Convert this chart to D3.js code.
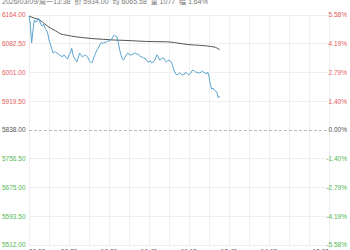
<!DOCTYPE html>
<html>
<head>
<meta charset="utf-8">
<script src="https://cdn.jsdelivr.net/npm/d3@7"></script>
<style>
    body { margin: 0; background: #fff; }
    svg { display: block; }
</style>
</head>
<body>
<svg id="chart"></svg>
<script>
// minutes since open, breaks removed (09:00-10:15, 10:30-11:30, 13:30-15:00)
const priceMinutes = d3.range(0, 144);
const prices = [
    6161, 6138, 6085, 6121, 6150, 6144, 6147, 6155, 6147, 6136,
    6133, 6138, 6127, 6121, 6113, 6093, 6082, 6070, 6056, 6059,
    6059, 6056, 6053, 6051, 6048, 6045, 6051, 6048, 6042, 6039,
    6051, 6056, 6070, 6051, 6042, 6036, 6031, 6045, 6056, 6051,
    6045, 6048, 6051, 6048, 6045, 6036, 6031, 6028, 6036, 6048,
    6056, 6065, 6070, 6079, 6085, 6085, 6085, 6087, 6087, 6090,
    6090, 6093, 6096, 6102, 6107, 6104, 6102, 6085, 6065, 6051,
    6039, 6036, 6045, 6051, 6056, 6053, 6051, 6051, 6053, 6056,
    6056, 6053, 6053, 6048, 6045, 6045, 6042, 6042, 6036, 6031,
    6031, 6034, 6028, 6031, 6034, 6042, 6051, 6045, 6036, 6039,
    6042, 6042, 6036, 6031, 6034, 6036, 6034, 6028, 6017, 6005,
    5997, 5994, 5997, 6000, 5997, 5994, 5994, 6000, 6000, 5997,
    5994, 5997, 6005, 6008, 6005, 6002, 6002, 6000, 6000, 6002,
    6005, 6002, 6000, 5997, 6002, 5991, 5966, 5954, 5957, 5951,
    5949, 5943, 5929, 5934
];
const avgMinutes = [0, 4, 8, 12, 16, 20, 24, 28, 32, 40, 48, 56, 64, 72, 88, 104, 114, 120, 128, 136, 140, 143];
const avgPrices = [6161, 6155, 6150, 6138, 6127, 6119, 6110, 6107, 6104, 6100, 6097, 6095, 6093, 6092, 6089, 6088, 6083, 6080, 6078, 6075, 6072, 6065.58];

const prevClose = 5838;
const priceTicks = [6164, 6082.5, 6001, 5919.5, 5838, 5756.5, 5675, 5593.5, 5512];
const pctLabels = ["5.58%", "4.19%", "2.79%", "1.40%", "0.00%", "-1.40%", "-2.79%", "-4.19%", "-5.58%"];
const timeTicks = [0, 30, 60, 90, 120, 150, 180, 225];
const timeLabels = ["09:00", "09:30", "10:00", "10:45", "11:15", "13:45", "14:15", "15:00"];
const headerText = "2026/03/09/周一13:38  价 5934.00  均 6065.58  量 1077  幅 1.64%";

const width = 350, height = 250;
const plot = {left: 29, right: 329, top: 15, bottom: 245};
const font = "'Liberation Sans', Arial, 'Noto Sans CJK SC', sans-serif";
const red = "#e35a57", green = "#52b852";

const svg = d3.select("#chart")
    .attr("width", width)
    .attr("height", height)
    .style("font-family", font);

const x = d3.scaleLinear().domain([0, 225]).range([plot.left, plot.right]);
const y = d3.scaleLinear().domain([5512, 6164]).range([plot.bottom, plot.top]);

// grid
svg.append("g")
    .selectAll("line")
    .data(d3.range(0, 226, 15))
    .join("line")
    .attr("x1", d => x(d)).attr("x2", d => x(d))
    .attr("y1", plot.top).attr("y2", plot.bottom)
    .attr("stroke", "#efefef")
    .attr("shape-rendering", "crispEdges");

svg.append("g")
    .selectAll("line")
    .data(priceTicks.filter(d => d !== prevClose))
    .join("line")
    .attr("x1", plot.left).attr("x2", plot.right)
    .attr("y1", d => y(d)).attr("y2", d => y(d))
    .attr("stroke", "#efefef")
    .attr("shape-rendering", "crispEdges");

svg.append("line")
    .attr("x1", plot.left).attr("x2", plot.right)
    .attr("y1", y(prevClose)).attr("y2", y(prevClose))
    .attr("stroke", "#bbb")
    .attr("stroke-dasharray", "3,2")
    .attr("shape-rendering", "crispEdges");

// price axis labels
const tickColor = d => d > prevClose ? red : d < prevClose ? green : "#555";

svg.append("g")
    .attr("font-size", "6.5px")
    .selectAll("text")
    .data(priceTicks)
    .join("text")
    .attr("x", 2)
    .attr("y", d => y(d))
    .attr("dy", "0.35em")
    .attr("fill", tickColor)
    .text(d => d.toFixed(2));

svg.append("g")
    .attr("font-size", "6.5px")
    .attr("text-anchor", "end")
    .selectAll("text")
    .data(priceTicks)
    .join("text")
    .attr("x", 347)
    .attr("y", d => y(d))
    .attr("dy", "0.35em")
    .attr("fill", tickColor)
    .text((d, i) => pctLabels[i]);

// time labels (cut by the bottom edge, as in the source)
svg.append("g")
    .attr("font-size", "6.5px")
    .attr("fill", "#555")
    .selectAll("text")
    .data(timeTicks)
    .join("text")
    .attr("x", d => x(d))
    .attr("y", 253.5)
    .attr("text-anchor", (d, i) => i === 0 ? "start" : i === timeTicks.length - 1 ? "end" : "middle")
    .text((d, i) => timeLabels[i]);

// lines
const line = d3.line()
    .x(d => x(d[0]))
    .y(d => y(d[1]));

svg.append("path")
    .datum(d3.zip(avgMinutes, avgPrices))
    .attr("fill", "none")
    .attr("stroke", "#555")
    .attr("stroke-width", 1)
    .attr("d", line.curve(d3.curveMonotoneX));

svg.append("path")
    .datum(d3.zip(priceMinutes, prices))
    .attr("fill", "none")
    .attr("stroke", "#5aa6d0")
    .attr("stroke-width", 1)
    .attr("d", line.curve(d3.curveLinear));

// header
svg.append("text")
    .attr("x", 2)
    .attr("y", 4)
    .attr("font-size", "7px")
    .attr("fill", "#777")
    .attr("xml:space", "preserve")
    .text(headerText);
</script>
</body>
</html>
